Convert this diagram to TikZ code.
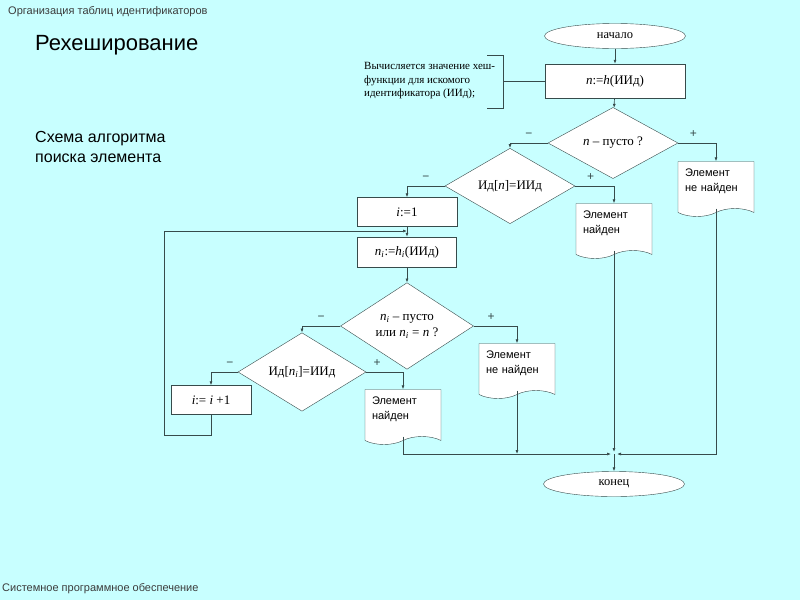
\documentclass[tikz,border=0pt]{standalone}
\usepackage{fontspec}
\setmainfont{Liberation Sans}
\newfontfamily\tnr{Liberation Serif}
\usetikzlibrary{shapes.geometric,shapes.symbols,arrows.meta}
\definecolor{slidebg}{RGB}{200,255,255}
\definecolor{edge}{RGB}{55,75,75}
\definecolor{capt}{RGB}{60,60,60}

\begin{document}
\begin{tikzpicture}[x=1pt,y=-1pt,
    every node/.style={inner sep=0pt},
    block/.style={rectangle,draw=edge,fill=white,font=\tnr\fontsize{13}{15}\selectfont},
    term/.style={ellipse,draw=edge,fill=white,minimum width=141pt,minimum height=25pt,font=\tnr\fontsize{12.5}{14}\selectfont},
    test/.style={diamond,draw=edge,fill=white,align=center,font=\tnr\fontsize{13}{16}\selectfont},
    docnode/.style={tape,tape bend top=none,tape bend bottom=in and out,tape bend height=8pt,
      draw=edge,fill=white,minimum width=76pt,minimum height=55pt,text width=62pt,
      text depth=24pt,align=left,font=\fontsize{11}{15}\selectfont},
    flow/.style={draw=edge,line width=0.7pt},
    arr/.style={flow,-{Latex[length=4pt,width=3pt]}},
    sign/.style={font=\fontsize{12}{12}\selectfont,text=edge}]
  \fill[slidebg] (0,0) rectangle (800,600);
  % slide captions
  \node[anchor=west,text=capt,font=\fontsize{11}{13}\selectfont] (topic) at (8,12) {Организация таблиц идентификаторов};
  \node[anchor=west,font=\fontsize{22}{26}\selectfont] (title) at (35,45) {Рехеширование};
  \node[anchor=north west,align=left,font=\fontsize{16}{20}\selectfont] (scheme) at (35,131) {Схема алгоритма\\поиска элемента};
  \node[anchor=west,text=capt,font=\fontsize{11}{13}\selectfont] (course) at (2,589) {Системное программное обеспечение};
  % start and first hash
  \node[term] (start) at (615,36) {начало};
  \node[block,minimum width=140pt,minimum height=34pt] (hash) at (615,81) {\textit{n}:=\textit{h}(ИИд)};
  \node[anchor=west,align=left,font=\tnr\fontsize{11}{13.5}\selectfont] (note) at (364,81)
    {Вычисляется значение хеш-\\функции для искомого\\идентификатора (ИИд);};
  \coordinate (brk) at (503,81);
  % first probe
  \node[test,minimum width=130pt,minimum height=56pt] (empty) at (613,143) {\textit{n} – пусто ?};
  \node[test,minimum width=130pt,minimum height=55pt] (cmp) at (510,186) {Ид[\textit{n}]=ИИд};
  \node[docnode] (miss) at (716,185) {Элемент\\не найден};
  \node[docnode] (found) at (614,227) {Элемент\\найден};
  % rehashing loop
  \node[block,minimum width=100pt,minimum height=29pt] (init) at (407,212) {\textit{i}:=1};
  \node[block,minimum width=99pt,minimum height=30pt] (rehash) at (407,252)
    {\textit{n}\textsubscript{\textit{i}}:=\textit{h}\textsubscript{\textit{i}}(ИИд)};
  \node[test,minimum width=133pt,minimum height=85pt] (empty2) at (407,326)
    {\textit{n}\textsubscript{\textit{i}} – пусто\\или \textit{n}\textsubscript{\textit{i}} = \textit{n} ?};
  \node[test,minimum width=128pt,minimum height=50pt] (cmp2) at (302,372)
    {Ид[\textit{n}\textsubscript{\textit{i}}]=ИИд};
  \node[block,minimum width=80pt,minimum height=29pt] (next) at (211,400) {\textit{i}:= \textit{i} +1};
  \node[docnode] (found2) at (403,413) {Элемент\\найден};
  \node[docnode] (miss2) at (517,367) {Элемент\\не найден};
  \node[term] (stop) at (614,484) {конец};
  \coordinate (loop) at (407,231);
  \coordinate (join) at (614,454);
  % connectors
  \draw[flow] (brk) ++(-16,-26) -- ++(16,0) -- ++(0,53) -- ++(-16,0);
  \draw[flow] (brk) -- (hash.west);
  \draw[arr] (start) -- (hash);
  \draw[arr] (hash) -- (empty);
  \draw[arr] (empty.west) -| (cmp.north) node[sign,pos=0.25,above=5pt] (m1) {−};
  \draw[arr] (empty.east) -| (miss.north) node[sign,pos=0.2,above=5pt] (p1) {+};
  \draw[arr] (cmp.west) -| (init.north) node[sign,pos=0.25,above=5pt] (m2) {−};
  \draw[arr] (cmp.east) -| (found.north) node[sign,pos=0.2,above=5pt] (p2) {+};
  \draw[arr] (init) -- (rehash);
  \draw[arr] (rehash) -- (empty2);
  \draw[arr] (empty2.west) -| (cmp2.north) node[sign,pos=0.25,above=5pt] (m3) {−};
  \draw[arr] (empty2.east) -| (miss2.north) node[sign,pos=0.2,above=5pt] (p3) {+};
  \draw[arr] (cmp2.west) -| (next.north) node[sign,pos=0.15,above=5pt] (m4) {−};
  \draw[arr] (cmp2.east) -| (found2.north) node[sign,pos=0.15,above=5pt] (p4) {+};
  \draw[arr] (next.south) -- ++(0,21) -- ++(-47,0) |- (loop);
  \draw[arr] (found2.south) |- ([xshift=-3pt]join);
  \draw[arr] (miss2.south) -- (miss2.south |- join);
  \draw[arr] (found.south) -- ([yshift=2pt]join);
  \draw[arr] (miss.south) |- ([xshift=3pt]join);
  \draw[arr] (join) -- (stop);
\end{tikzpicture}
\end{document}
